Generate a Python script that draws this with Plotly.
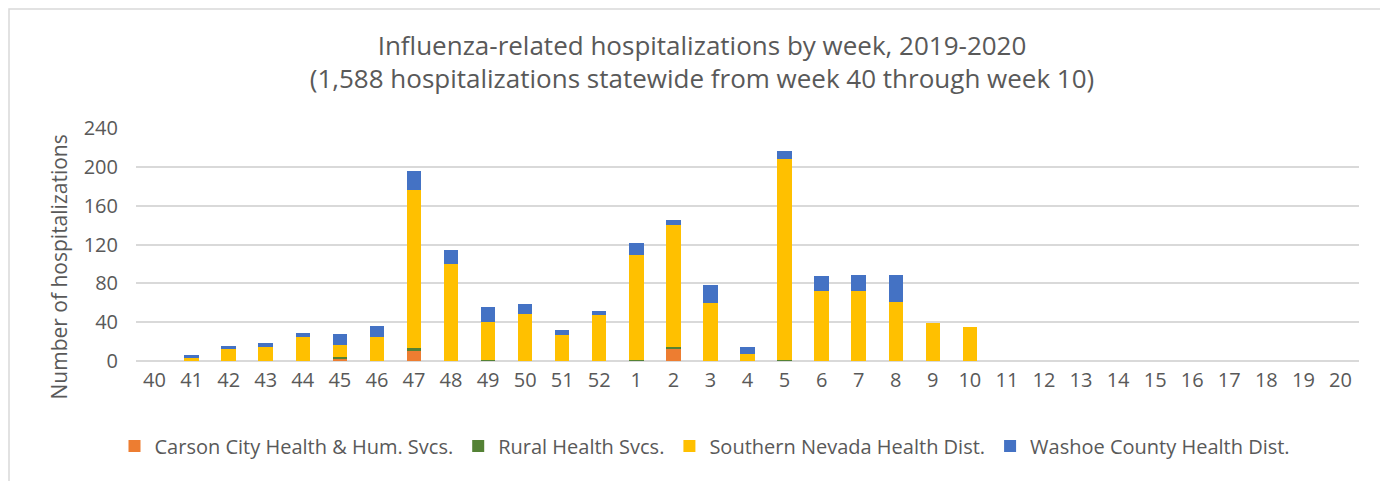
import plotly.graph_objects as go

weeks = ["40", "41", "42", "43", "44", "45", "46", "47", "48", "49", "50", "51", "52",
         "1", "2", "3", "4", "5", "6", "7", "8", "9", "10",
         "11", "12", "13", "14", "15", "16", "17", "18", "19", "20"]

carson = [0, 0, 0, 0, 0, 3, 0, 11, 0, 0, 0, 0, 0, 0, 13, 0, 0, 0, 0, 0, 0, 0, 0,
          0, 0, 0, 0, 0, 0, 0, 0, 0, 0]
rural = [0, 0, 0, 0, 0, 1, 0, 2, 0, 1, 0, 0, 0, 1, 1, 0, 0, 1, 0, 0, 0, 0, 0,
         0, 0, 0, 0, 0, 0, 0, 0, 0, 0]
southern = [0, 3, 13, 14, 25, 12, 25, 163, 100, 39, 48, 27, 47, 108, 126, 60, 7, 207, 72, 72, 61, 39, 35,
            0, 0, 0, 0, 0, 0, 0, 0, 0, 0]
washoe = [0, 3, 2, 5, 4, 12, 11, 20, 14, 16, 11, 5, 5, 13, 5, 18, 7, 8, 16, 17, 28, 0, 0,
          0, 0, 0, 0, 0, 0, 0, 0, 0, 0]

series = [
    ("Carson City Health & Hum. Svcs.", carson, "#ED7D31"),
    ("Rural Health Svcs.", rural, "#548235"),
    ("Southern Nevada Health Dist.", southern, "#FFC000"),
    ("Washoe County Health Dist.", washoe, "#4472C4"),
]

font_family = "Open Sans, Noto Sans, sans-serif"
grey = "#595959"

L, R, T, B = 128, 37, 120, 128
W, H = 1388, 481
PW = W - L - R
PH = H - T - B

fig = go.Figure()
for name, vals, color in series:
    fig.add_trace(go.Bar(x=weeks, y=vals, name=name, marker=dict(color=color, line=dict(width=0))))

fig.update_layout(
    width=W, height=H,
    barmode="stack",
    bargap=0.61,
    paper_bgcolor="white",
    plot_bgcolor="white",
    margin=dict(l=L, r=R, t=T, b=B, autoexpand=False),
    font=dict(family=font_family, color=grey),
    title=dict(
        text="Influenza-related hospitalizations by week, 2019-2020<br>(1,588 hospitalizations statewide from week 40 through week 10)",
        x=0.5, xanchor="center", xref="container",
        y=1 - 46.5 / H, yanchor="middle", yref="container",
        font=dict(size=26, color=grey, family=font_family),
    ),
    xaxis=dict(
        type="category",
        tickfont=dict(size=20, color=grey),
        showgrid=False,
        showline=False,
        ticks="",
        ticklabelstandoff=5,
    ),
    yaxis=dict(
        range=[0, 240],
        dtick=40,
        tick0=0,
        showgrid=True,
        gridcolor="#D9D9D9",
        gridwidth=1.5,
        zeroline=True,
        zerolinecolor="#D9D9D9",
        zerolinewidth=1.5,
        tickfont=dict(size=20, color=grey),
        ticks="",
        ticklabelstandoff=17,
    ),
    legend=dict(
        orientation="h",
        x=(697 - L) / PW, xanchor="center",
        y=(PH - (438 - T)) / PH, yanchor="middle",
        font=dict(size=20, color=grey),
        traceorder="normal",
        itemsizing="constant",
        itemwidth=30,
    ),
    annotations=[
        dict(text="Number of hospitalizations", textangle=-90,
             xref="paper", yref="paper",
             x=(50 - L) / PW, y=(PH - (259.5 - T)) / PH,
             xanchor="center", yanchor="middle", showarrow=False,
             font=dict(size=21, color=grey, family=font_family)),
    ],
    shapes=[
        dict(type="rect", xref="paper", yref="paper",
             x0=-(L - 1) / PW, x1=(1377 - L) / PW,
             y0=-1.0, y1=1 + (T - 1) / PH,
             line=dict(color="#D9D9D9", width=1.5), fillcolor="rgba(0,0,0,0)", layer="below"),
    ],
)

fig.write_html("out.html")
